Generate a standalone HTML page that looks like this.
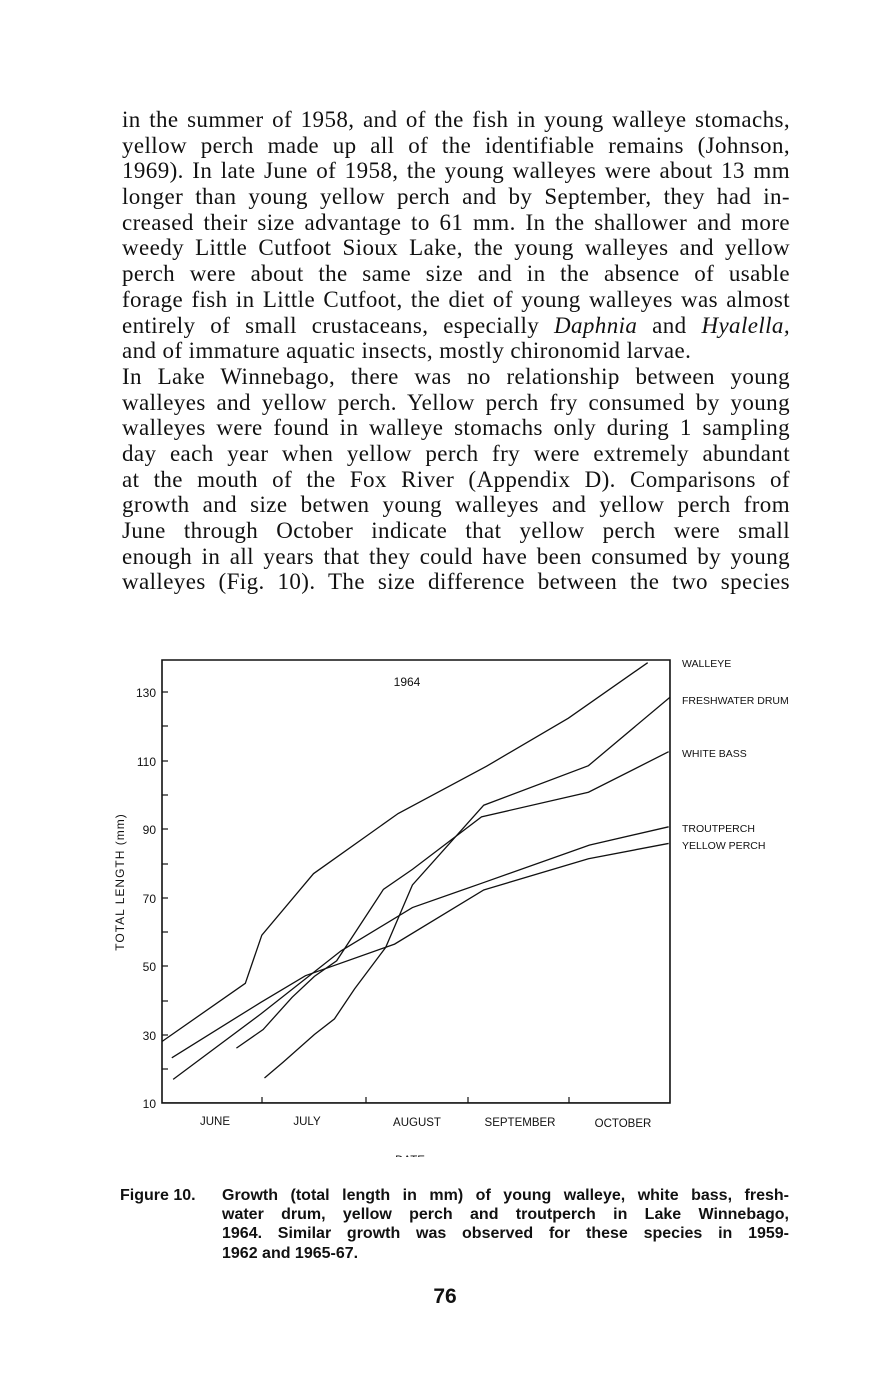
<!DOCTYPE html>
<html><head><meta charset="utf-8"><style>
html,body{margin:0;padding:0;background:#fff;}
body{width:886px;height:1380px;position:relative;overflow:hidden;color:#111;}
.t{position:absolute;left:122px;width:668px;font-family:"Liberation Serif",serif;font-size:23px;letter-spacing:0.4px;line-height:26px;white-space:nowrap;}
.j{text-align:justify;text-align-last:justify;white-space:normal;}
.cap{position:absolute;font-family:"Liberation Sans Narrow","Liberation Sans",sans-serif;font-weight:bold;font-size:16px;line-height:19.5px;}
svg text{font-family:"Liberation Sans",sans-serif;fill:#111;}
</style></head><body>
<div class="t j" style="top:107px">in the summer of 1958, and of the fish in young walleye stomachs,</div>
<div class="t j" style="top:133px">yellow perch made up all of the identifiable remains (Johnson,</div>
<div class="t j" style="top:158px">1969). In late June of 1958, the young walleyes were about 13 mm</div>
<div class="t j" style="top:184px">longer than young yellow perch and by September, they had in-</div>
<div class="t j" style="top:210px">creased their size advantage to 61 mm. In the shallower and more</div>
<div class="t j" style="top:235px">weedy Little Cutfoot Sioux Lake, the young walleyes and yellow</div>
<div class="t j" style="top:261px">perch were about the same size and in the absence of usable</div>
<div class="t j" style="top:287px">forage fish in Little Cutfoot, the diet of young walleyes was almost</div>
<div class="t j" style="top:313px">entirely of small crustaceans, especially <i>Daphnia</i> and <i>Hyalella,</i></div>
<div class="t" style="top:338px">and of immature aquatic insects, mostly chironomid larvae.</div>
<div class="t j" style="top:364px">In Lake Winnebago, there was no relationship between young</div>
<div class="t j" style="top:390px">walleyes and yellow perch. Yellow perch fry consumed by young</div>
<div class="t j" style="top:415px">walleyes were found in walleye stomachs only during 1 sampling</div>
<div class="t j" style="top:441px">day each year when yellow perch fry were extremely abundant</div>
<div class="t j" style="top:467px">at the mouth of the Fox River (Appendix D). Comparisons of</div>
<div class="t j" style="top:492px">growth and size betwen young walleyes and yellow perch from</div>
<div class="t j" style="top:518px">June through October indicate that yellow perch were small</div>
<div class="t j" style="top:544px">enough in all years that they could have been consumed by young</div>
<div class="t j" style="top:569px">walleyes (Fig. 10). The size difference between the two species</div>

<svg width="886" height="1380" style="position:absolute;left:0;top:0" xmlns="http://www.w3.org/2000/svg">
<defs><clipPath id="c"><rect x="0" y="0" width="886" height="1157"/></clipPath></defs>
<g transform="translate(162,660) scale(0.4456,0.3323) translate(-138,-60)" fill="none" stroke="#111" stroke-width="1.3">
<rect x="138" y="60" width="1140" height="1333" vector-effect="non-scaling-stroke" stroke-width="1.6"/>
<polyline vector-effect="non-scaling-stroke" points="138,1208 325,1033 362,888 478,703 668,522 866,380 1050,235 1228,68"/>
<polyline vector-effect="non-scaling-stroke" points="368,1318 410,1270 480,1187 525,1140 570,1050 640,925 700,737 860,497 1095,378 1278,172"/>
<polyline vector-effect="non-scaling-stroke" points="305,1228 365,1172 430,1075 480,1012 530,965 635,750 700,690 855,532 1095,458 1275,336"/>
<polyline vector-effect="non-scaling-stroke" points="163,1322 360,1125 540,935 700,805 855,732 1097,617 1275,562"/>
<polyline vector-effect="non-scaling-stroke" points="160,1257 360,1090 460,1010 660,915 860,752 1095,658 1275,612"/>
</g>
<g stroke="#111" stroke-width="1.2">
<line x1="162" y1="692" x2="168" y2="692"/><line x1="162" y1="726" x2="168" y2="726"/>
<line x1="162" y1="761" x2="168" y2="761"/><line x1="162" y1="795" x2="168" y2="795"/>
<line x1="162" y1="829" x2="168" y2="829"/><line x1="162" y1="864" x2="168" y2="864"/>
<line x1="162" y1="898" x2="168" y2="898"/><line x1="162" y1="932" x2="168" y2="932"/>
<line x1="162" y1="966" x2="168" y2="966"/><line x1="162" y1="1001" x2="168" y2="1001"/>
<line x1="162" y1="1035" x2="168" y2="1035"/><line x1="162" y1="1069" x2="168" y2="1069"/>
<line x1="262" y1="1097" x2="262" y2="1103"/><line x1="366" y1="1097" x2="366" y2="1103"/>
<line x1="468" y1="1097" x2="468" y2="1103"/><line x1="569" y1="1097" x2="569" y2="1103"/>
</g>
<g font-size="12" text-anchor="end">
<text x="156" y="697">130</text><text x="156" y="766">110</text><text x="156" y="834">90</text>
<text x="156" y="903">70</text><text x="156" y="971">50</text><text x="156" y="1040">30</text>
<text x="156" y="1108">10</text>
</g>
<text x="407" y="686" font-size="12" text-anchor="middle">1964</text>
<text transform="translate(124,882) rotate(-90)" font-size="12" text-anchor="middle" letter-spacing="1">TOTAL LENGTH  (mm)</text>
<g font-size="11.5" text-anchor="middle">
<text x="215" y="1125">JUNE</text><text x="307" y="1125">JULY</text><text x="417" y="1126">AUGUST</text>
<text x="520" y="1126">SEPTEMBER</text><text x="623" y="1127">OCTOBER</text>
</g>
<text x="410" y="1164" font-size="11.5" text-anchor="middle" clip-path="url(#c)">DATE</text>
<g font-size="10.5">
<text x="682" y="667">WALLEYE</text><text x="682" y="704">FRESHWATER DRUM</text>
<text x="682" y="757">WHITE BASS</text><text x="682" y="832">TROUTPERCH</text>
<text x="682" y="849">YELLOW PERCH</text>
</g>
</svg>

<div class="cap" style="left:120px;top:1186px">Figure 10.</div>
<div class="cap" style="left:222px;top:1186px;width:567px;text-align:justify;text-align-last:justify">Growth (total length in mm) of young walleye, white bass, fresh-</div>
<div class="cap" style="left:222px;top:1205px;width:567px;text-align:justify;text-align-last:justify">water drum, yellow perch and troutperch in Lake Winnebago,</div>
<div class="cap" style="left:222px;top:1224px;width:567px;text-align:justify;text-align-last:justify">1964. Similar growth was observed for these species in 1959-</div>
<div class="cap" style="left:222px;top:1244px">1962 and 1965-67.</div>
<div class="cap" style="left:420px;top:1287px;width:50px;text-align:center;font-size:21px">76</div>
</body></html>
